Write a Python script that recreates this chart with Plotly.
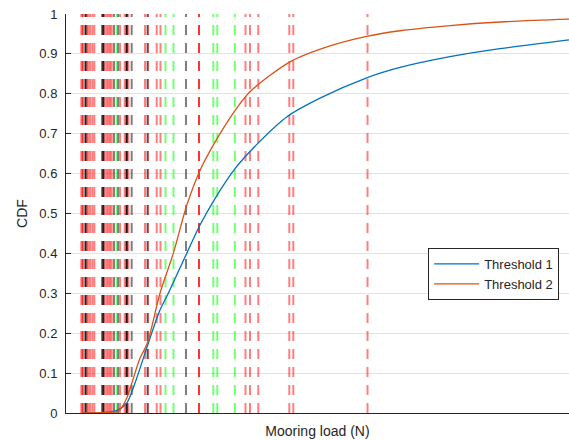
import plotly.graph_objects as go

# Vertical dashed markers (x positions in load units)
red_lines = [30.6, 41.4, 44, 48, 52.6, 56.6, 77.4, 81.4, 84.6, 88, 91.4, 108,
             117.4, 121.4, 124.6, 158, 164, 181.4, 189, 359, 368, 384.6,
             446.6, 454.6, 603]
red_strong_lines = [33.4, 266]
black_lines = [72, 96, 104, 131.4, 163, 240]
black_strong_lines = [39, 74.6, 121.4]
green_lines = [101.4, 199, 215, 294.6, 302.6, 337.6]

# CDF curves
t1_x = [34, 68, 88, 101.4, 121.4, 138, 154.6, 164.6, 188, 204.6, 241.4, 268,
        298, 338, 384.6, 441.4, 508, 601.4, 668, 768, 868, 1006]
t1_y = [0, 0.001, 0.003, 0.006, 0.025, 0.075, 0.137, 0.175, 0.258, 0.30, 0.40,
        0.471, 0.5375, 0.6125, 0.677, 0.742, 0.789, 0.84, 0.866, 0.893, 0.913,
        0.935]
t2_x = [34, 68, 88, 104.6, 121.4, 131.4, 148, 162.6, 188, 214.6, 241.4, 268,
        298, 338, 368, 448, 528, 601.4, 668, 768, 868, 1006]
t2_y = [0, 0.001, 0.002, 0.004, 0.037, 0.074, 0.137, 0.175, 0.30, 0.40, 0.52,
        0.608, 0.679, 0.758, 0.805, 0.88, 0.92, 0.944, 0.958, 0.971, 0.98,
        0.987]

y_ticks = [0, 0.1, 0.2, 0.3, 0.4, 0.5, 0.6, 0.7, 0.8, 0.9, 1]

fig = go.Figure()

DASH = "10px,8px"


def add_vlines(xs, color):
    for x in xs:
        fig.add_trace(go.Scatter(
            x=[x, x], y=[0, 1], mode="lines",
            line=dict(color=color, width=2, dash=DASH),
            showlegend=False, hoverinfo="skip"))


add_vlines(red_lines, "rgba(255,0,0,0.5)")
add_vlines(red_strong_lines, "rgba(255,0,0,0.8)")
add_vlines(black_lines, "rgba(0,0,0,0.5)")
add_vlines(black_strong_lines, "rgba(0,0,0,0.85)")
add_vlines(green_lines, "rgba(0,255,0,0.55)")

fig.add_trace(go.Scatter(x=t1_x, y=t1_y, mode="lines", name="Threshold 1",
                         line=dict(color="#0072BD", width=1.3, shape="spline",
                                   smoothing=0.8)))
fig.add_trace(go.Scatter(x=t2_x, y=t2_y, mode="lines", name="Threshold 2",
                         line=dict(color="#D95319", width=1.3, shape="spline",
                                   smoothing=0.8)))

fig.update_layout(
    width=569, height=440,
    margin=dict(l=66, r=0, t=14, b=27),
    paper_bgcolor="white", plot_bgcolor="white",
    font=dict(family="Liberation Sans, Arial, sans-serif", size=13, color="#262626"),
    xaxis=dict(range=[0, 1006], showticklabels=False, ticks="", showgrid=False,
               zeroline=False, showline=True, linecolor="#262626", linewidth=1,
               title=dict(text="Mooring load (N)", standoff=13,
                          font=dict(size=14, color="#262626")),
               automargin=False),
    yaxis=dict(range=[0, 1], tickvals=y_ticks, ticks="inside", ticklen=5,
               tickcolor="#262626", showgrid=True, gridcolor="#e3e3e3",
               zeroline=False, showline=True, linecolor="#262626", linewidth=1,
               ticklabelstandoff=5,
               title=dict(text="CDF", standoff=8,
                          font=dict(size=14, color="#262626")),
               automargin=False),
    legend=dict(x=0.72, y=0.4135, xanchor="left", yanchor="top",
                bgcolor="white", bordercolor="#262626", borderwidth=1,
                itemwidth=45,
                font=dict(size=13, color="#262626"), tracegroupgap=0),
    showlegend=True,
)

fig.write_html(
    "out.html",
    config={"displayModeBar": False},
    post_script="document.body.style.margin='0';document.body.style.overflow='hidden';",
)
